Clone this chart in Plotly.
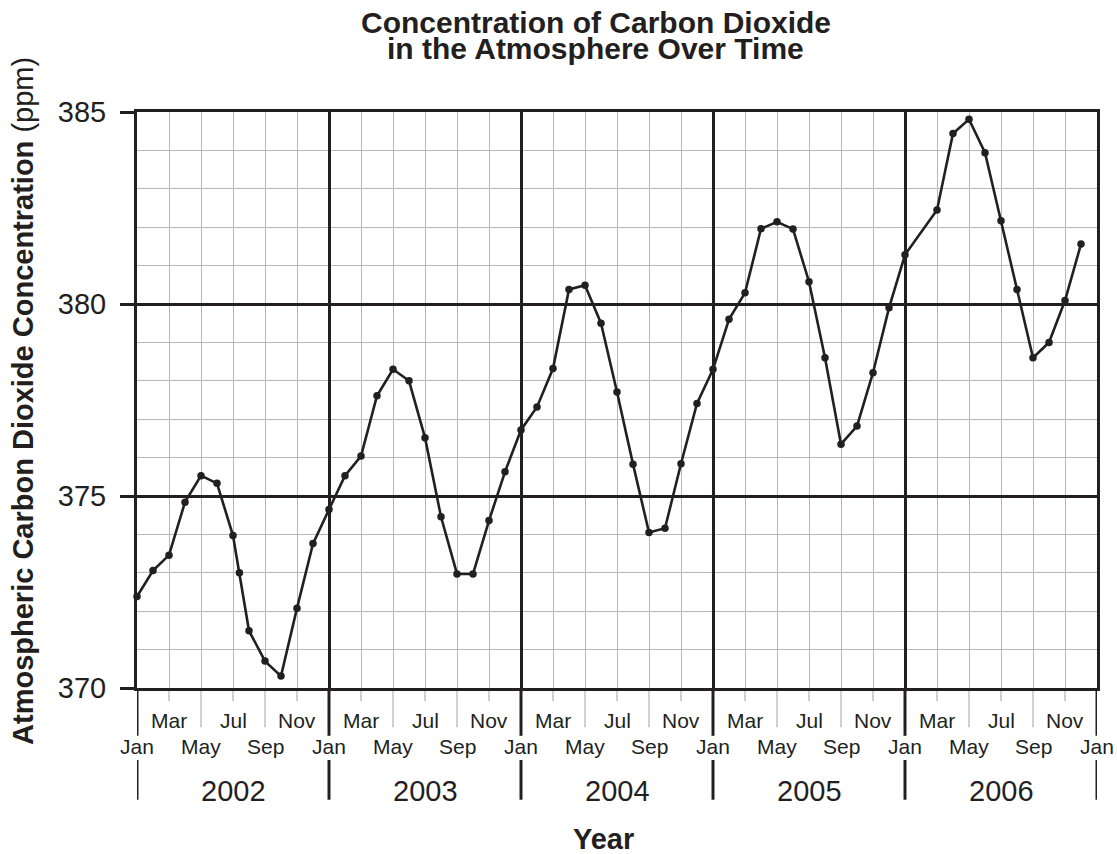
import plotly.graph_objects as go

# ---- data ----
month_pos = [0, 1, 2, 3, 4, 5, 6, 6.4, 7, 8, 9, 10, 11,
             12, 13, 14, 15, 16, 17, 18, 19, 20, 21, 22, 23,
             24, 25, 26, 27, 28, 29, 30, 31, 32, 33, 34, 35,
             36, 37, 38, 39, 40, 41, 42, 43, 44, 45, 46, 47,
             48, 50, 51, 52, 53, 54, 55, 56, 57, 58, 59]
co2_ppm = [372.38, 373.06, 373.46, 374.84, 375.53, 375.33, 373.97, 373.00, 371.49, 370.70, 370.31, 372.08, 373.76,
           374.65, 375.53, 376.04, 377.61, 378.30, 378.00, 376.52, 374.46, 372.97, 372.97, 374.36, 375.63,
           376.72, 377.32, 378.32, 380.38, 380.49, 379.50, 377.71, 375.83, 374.05, 374.16, 375.84, 377.41,
           378.30, 379.60, 380.29, 381.96, 382.14, 381.95, 380.58, 378.60, 376.35, 376.82, 378.21, 379.90,
           381.28, 382.45, 384.44, 384.81, 383.94, 382.17, 380.38, 378.60, 379.00, 380.09, 381.56]
years = ["2002", "2003", "2004", "2005", "2006"]
month_labels = ["Jan", "Mar", "May", "Jul", "Sep", "Nov"]
y_ticks = [370, 375, 380, 385]

DARK = "#231f20"
GREY = "#b8b8b8"
FONT = "Liberation Sans, Arial, Helvetica, sans-serif"

fig = go.Figure()
fig.add_trace(go.Scatter(
    x=month_pos, y=co2_ppm, mode="lines+markers",
    line=dict(color=DARK, width=2.6),
    marker=dict(color=DARK, size=7.5),
    showlegend=False, cliponaxis=False,
))

n_months = 12 * len(years)
shapes = []
annotations = []

# extensions of the grid below the plot and month labels
for m in range(0, n_months + 1, 2):
    name = month_labels[(m % 12) // 2]
    if name == "Jan":
        y1, lw, col = -0.083, 3, DARK
        ylab = -0.101
    elif name in ("May", "Sep"):
        y1, lw, col = -0.068, 1.3, GREY
        ylab = -0.101
    else:
        y1, lw, col = -0.023, 1.3, GREY
        ylab = -0.056
    shapes.append(dict(type="line", xref="x", yref="paper", x0=m, x1=m, y0=0, y1=y1,
                       line=dict(color=col, width=lw), layer="below"))
    annotations.append(dict(x=m, y=ylab, xref="x", yref="paper", text=name, showarrow=False,
                            font=dict(size=21, color=DARK, family=FONT),
                            xanchor="center", yanchor="middle"))

# year separators and labels
for i, yr in enumerate(years + [None]):
    shapes.append(dict(type="line", xref="x", yref="paper", x0=12 * i, x1=12 * i,
                       y0=-0.125, y1=-0.194, line=dict(color=DARK, width=3)))
    if yr is not None:
        annotations.append(dict(x=12 * i + 6, y=-0.178, xref="x", yref="paper", text=yr,
                                showarrow=False, font=dict(size=29, color=DARK, family=FONT),
                                xanchor="center", yanchor="middle"))

# titles
annotations.append(dict(x=0.478, y=1.156, xref="paper", yref="paper",
                        text="<b>Concentration of Carbon Dioxide</b>", showarrow=False,
                        font=dict(size=30, color=DARK, family=FONT), xanchor="center", yanchor="middle"))
annotations.append(dict(x=0.478, y=1.110, xref="paper", yref="paper",
                        text="<b>in the Atmosphere Over Time</b>", showarrow=False,
                        font=dict(size=30, color=DARK, family=FONT), xanchor="center", yanchor="middle"))
annotations.append(dict(x=0.486, y=-0.262, xref="paper", yref="paper",
                        text="<b>Year</b>", showarrow=False,
                        font=dict(size=29, color=DARK, family=FONT), xanchor="center", yanchor="middle"))
annotations.append(dict(x=-0.119, y=0.498, xref="paper", yref="paper", textangle=-90,
                        text="<b>Atmospheric Carbon Dioxide Concentration</b> (ppm)", showarrow=False,
                        font=dict(size=29, color=DARK, family=FONT), xanchor="center", yanchor="middle"))

fig.update_layout(
    width=1117, height=854, autosize=False,
    margin=dict(l=137, r=20, t=112, b=166),
    plot_bgcolor="white", paper_bgcolor="white",
    font=dict(family=FONT, color=DARK),
    shapes=shapes, annotations=annotations,
    xaxis=dict(range=[0, n_months], tickmode="linear", tick0=0, dtick=12,
               showticklabels=False, ticks="",
               showgrid=True, gridcolor=DARK, gridwidth=3,
               showline=True, linecolor=DARK, linewidth=3, mirror=True, zeroline=False,
               minor=dict(tickmode="linear", tick0=0, dtick=2, showgrid=True,
                          gridcolor=GREY, gridwidth=1.3)),
    yaxis=dict(range=[370, 385], tickmode="array", tickvals=y_ticks,
               ticktext=[str(v) for v in y_ticks],
               ticks="outside", ticklen=14, tickwidth=3, tickcolor=DARK,
               ticklabelstandoff=8,
               tickfont=dict(size=29, color=DARK, family=FONT),
               showgrid=True, gridcolor=DARK, gridwidth=3,
               showline=True, linecolor=DARK, linewidth=3, mirror=True, zeroline=False,
               minor=dict(tickmode="linear", tick0=370, dtick=1, showgrid=True,
                          gridcolor=GREY, gridwidth=1.3)),
)

fig.write_html("out.html", config={"displayModeBar": False},
               post_script="document.body.style.margin='0';document.body.style.overflow='hidden';")
